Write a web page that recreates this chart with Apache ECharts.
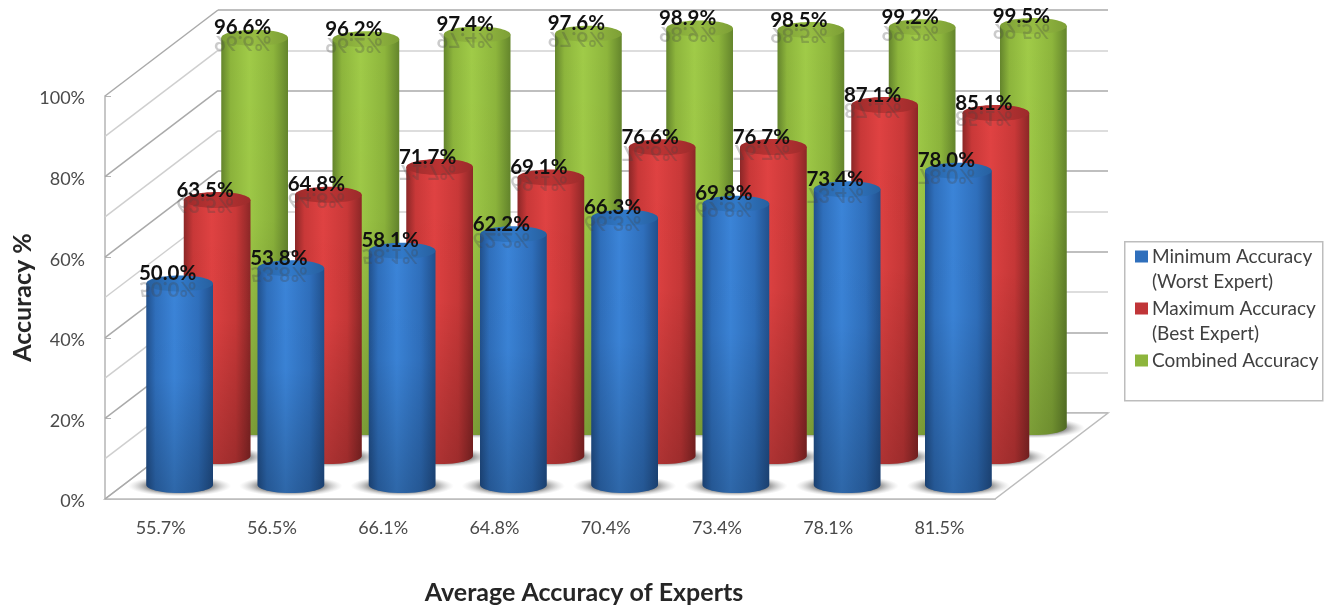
<!DOCTYPE html>
<html>
<head>
<meta charset="utf-8">
<style>html,body{margin:0;padding:0;background:#fff}#chart{width:1324px;height:607px}</style>
<script src="https://cdn.jsdelivr.net/npm/echarts@6/dist/echarts.min.js"></script>
</head>
<body>
<div id="chart"></div>
<script>
// Accuracy of the individual experts against the combined result
var categories = ['55.7%', '56.5%', '66.1%', '64.8%', '70.4%', '73.4%', '78.1%', '81.5%'];
var minimumAccuracy = [50.0, 53.8, 58.1, 62.2, 66.3, 69.8, 73.4, 78.0];
var maximumAccuracy = [63.5, 64.8, 71.7, 69.1, 76.6, 76.7, 87.1, 85.1];
var combinedAccuracy = [96.6, 96.2, 97.4, 97.6, 98.9, 98.5, 99.2, 99.5];
var wallTicks = [0, 10, 20, 30, 40, 50, 60, 70, 80, 90, 100];
var legendLines = {
  'Minimum Accuracy': 'Minimum Accuracy\n(Worst Expert)',
  'Maximum Accuracy': 'Maximum Accuracy\n(Best Expert)',
  'Combined Accuracy': 'Combined Accuracy\n '
};

var FONT = 'Lato, "Open Sans", sans-serif';
var GRID_W = 890, GRID_H = 403;
var DEPTH_X = 113, DEPTH_Y = 86;   // offset of the back wall from the front plane

function gridAt(left, top) {
  return { left: left, top: top, width: GRID_W, height: GRID_H, outerBoundsMode: 'none', containLabel: false };
}

// A cylinder has a shaded body, a darker cap, a floor shadow and a value label
function cylinderRenderer(tone) {
  return function (params, api) {
    var i = api.value(0), v = api.value(1);
    var base = api.coord([i, 0]);
    var top = api.coord([i, v]);
    var rx = api.size([1, 0])[0] * 0.3;
    var ry = 8;
    var cx = base[0];

    var outline = [[cx - rx, top[1]], [cx + rx, top[1]]];
    for (var a = 0; a <= 24; a++) {
      var t = Math.PI * a / 24;
      outline.push([cx + rx * Math.cos(t), base[1] + ry * Math.sin(t)]);
    }
    var across = new echarts.graphic.LinearGradient(0, 0, 1, 0, [
      { offset: 0, color: tone.edge },
      { offset: 0.14, color: tone.mid },
      { offset: 0.42, color: tone.light },
      { offset: 0.78, color: tone.mid },
      { offset: 1, color: tone.edge }
    ]);
    var down = new echarts.graphic.LinearGradient(0, 0, 0, 1, [
      { offset: 0, color: 'rgba(0,0,0,0)' },
      { offset: 0.45, color: 'rgba(0,0,0,0.02)' },
      { offset: 1, color: 'rgba(0,0,0,0.22)' }
    ]);
    var shadow = new echarts.graphic.RadialGradient(0.5, 0.5, 0.5, [
      { offset: 0, color: 'rgba(90,90,90,0.85)' },
      { offset: 0.62, color: 'rgba(100,100,100,0.75)' },
      { offset: 1, color: 'rgba(190,190,190,0)' }
    ]);
    var cap = new echarts.graphic.LinearGradient(0, 0, 1, 0, [
      { offset: 0, color: tone.capEdge },
      { offset: 0.5, color: tone.cap },
      { offset: 1, color: tone.capEdge }
    ]);
    var text = v.toFixed(1) + '%';
    var labelX = cx - 12, labelY = top[1] - 10;
    return {
      type: 'group',
      children: [
        { type: 'circle', x: cx, y: base[1] + 1, scaleY: 0.2,
          shape: { cx: 0, cy: 0, r: rx * 1.55 }, style: { fill: shadow }, silent: true },
        { type: 'polygon', shape: { points: outline }, style: { fill: across } },
        { type: 'polygon', shape: { points: outline }, style: { fill: down }, silent: true },
        { type: 'ellipse', shape: { cx: cx, cy: top[1], rx: rx, ry: ry }, style: { fill: cap } },
        { type: 'text', x: labelX, y: labelY + 15, scaleY: -1, silent: true,
          style: { text: text, x: 0, y: 0, align: 'center', verticalAlign: 'middle',
            font: 'bold 20.5px ' + FONT, fill: 'rgba(70,70,70,0.28)' } },
        { type: 'text', x: labelX, y: labelY, silent: true,
          style: { text: text, x: 0, y: 0, align: 'center', verticalAlign: 'middle',
            font: 'bold 20.5px ' + FONT, fill: '#111' } }
      ]
    };
  };
}

function cylinderSeries(name, values, gridIndex, color, tone) {
  return {
    name: name,
    type: 'custom',
    coordinateSystem: 'cartesian2d',
    xAxisIndex: gridIndex,
    yAxisIndex: gridIndex,
    itemStyle: { color: color },
    encode: { x: 0, y: 1 },
    data: values.map(function (v, i) { return [i, v]; }),
    renderItem: cylinderRenderer(tone),
    z: 3 + gridIndex
  };
}

var blueTone = { edge: '#21508c', mid: '#2f6fbc', light: '#3b84d8', cap: '#3179c8', capEdge: '#27609f' };
var redTone = { edge: '#8c2727', mid: '#c93838', light: '#e04242', cap: '#bb3333', capEdge: '#9c2b2b' };
var greenTone = { edge: '#64852c', mid: '#8db53c', light: '#a0cb48', cap: '#96bc42', capEdge: '#7d9f36' };

function hiddenAxes(gridIndex) {
  return {
    x: { type: 'category', gridIndex: gridIndex, data: categories, show: false },
    y: { type: 'value', gridIndex: gridIndex, min: 0, max: 100, show: false }
  };
}
var greenAxes = hiddenAxes(2), redAxes = hiddenAxes(3), blueAxes = hiddenAxes(4);

var option = {
  animation: false,
  backgroundColor: '#ffffff',
  textStyle: { fontFamily: FONT },
  grid: [gridAt(105, 96), gridAt(218, 10), gridAt(199, 24), gridAt(161.5, 53), gridAt(124, 82)],
  xAxis: [
    {
      type: 'category', gridIndex: 0, data: categories,
      name: 'Average Accuracy of Experts', nameLocation: 'middle', nameGap: 81,
      nameMoveOverlap: false,
      nameTextStyle: { fontFamily: FONT, fontSize: 25, fontWeight: 'bold', color: '#262626', padding: [0, 0, 0, 68] },
      axisLine: { lineStyle: { color: '#c4c4c4', width: 2 } },
      axisTick: { show: false },
      axisLabel: { margin: 20, fontFamily: FONT, fontSize: 18, color: '#4a4a4a' }
    },
    { type: 'category', gridIndex: 1, data: categories, show: false },
    greenAxes.x, redAxes.x, blueAxes.x
  ],
  yAxis: [
    {
      type: 'value', gridIndex: 0, min: 0, max: 100, interval: 20,
      name: 'Accuracy %', nameLocation: 'middle', nameGap: 70,
      nameMoveOverlap: false,
      nameTextStyle: { fontFamily: FONT, fontSize: 25, fontWeight: 'bold', color: '#262626' },
      axisLine: { show: true, lineStyle: { color: '#b4b4b4', width: 1.5 } },
      axisTick: { show: true, inside: true, length: 6, lineStyle: { color: '#b4b4b4' } },
      axisLabel: {
        margin: 20,
        formatter: '{pct|{value}%}',
        rich: { pct: { fontFamily: FONT, fontSize: 18, color: '#4a4a4a', padding: [5, 0, 0, 0] } }
      },
      splitLine: { show: false }
    },
    {
      type: 'value', gridIndex: 1, min: 0, max: 100, interval: 10,
      axisLine: { show: false }, axisTick: { show: false }, axisLabel: { show: false },
      splitLine: { show: true, lineStyle: { color: ['#aaaaaa', '#d2d2d2'], width: 1.5 } }
    },
    greenAxes.y, redAxes.y, blueAxes.y
  ],
  legend: {
    show: true,
    orient: 'vertical',
    left: 1135,
    top: 219,
    padding: 0,
    icon: 'rect',
    itemWidth: 13,
    itemHeight: 12,
    itemGap: -23,
    data: ['Minimum Accuracy', 'Maximum Accuracy', 'Combined Accuracy'],
    formatter: function (name) { return '\n' + legendLines[name]; },
    textStyle: { fontFamily: FONT, fontSize: 19, lineHeight: 25, color: '#404040', padding: [0, 0, 0, -1] }
  },
  graphic: [{
    type: 'rect', left: 1124, top: 241, z: 0,
    shape: { width: 198, height: 159 },
    style: { fill: '#fff', stroke: '#bdbdbd', lineWidth: 1.5 }
  }],
  series: [
    {
      // Floor plane between the front edge and the back wall
      type: 'custom', coordinateSystem: 'cartesian2d', xAxisIndex: 0, yAxisIndex: 0, z: 1,
      silent: true, data: [[0, 0]],
      renderItem: function (params, api) {
        var c = params.coordSys;
        var fy = c.y + c.height;
        return {
          type: 'polygon',
          shape: { points: [
            [c.x, fy], [c.x + c.width, fy],
            [c.x + c.width + DEPTH_X, fy - DEPTH_Y], [c.x + DEPTH_X, fy - DEPTH_Y]
          ] },
          style: { fill: '#ffffff', stroke: '#bcbcbc', lineWidth: 1.5 }
        };
      }
    },
    {
      // Side wall rulings running back from the front axis
      type: 'custom', coordinateSystem: 'cartesian2d', xAxisIndex: 0, yAxisIndex: 0, z: 1,
      silent: true,
      encode: { y: 1 },
      data: wallTicks.map(function (t) { return [0, t]; }),
      renderItem: function (params, api) {
        var tick = api.value(1);
        var y = api.coord([0, tick])[1];
        var x = params.coordSys.x;
        return {
          type: 'line',
          shape: { x1: x, y1: y, x2: x + DEPTH_X, y2: y - DEPTH_Y },
          style: { stroke: tick % 20 === 0 ? '#aaaaaa' : '#cfcfcf', lineWidth: 1.5 }
        };
      }
    },
    cylinderSeries('Combined Accuracy', combinedAccuracy, 2, '#8db53c', greenTone),
    cylinderSeries('Maximum Accuracy', maximumAccuracy, 3, '#c03538', redTone),
    cylinderSeries('Minimum Accuracy', minimumAccuracy, 4, '#2f6fbc', blueTone)
  ]
};

echarts.init(document.getElementById('chart')).setOption(option);
</script>
</body>
</html>
